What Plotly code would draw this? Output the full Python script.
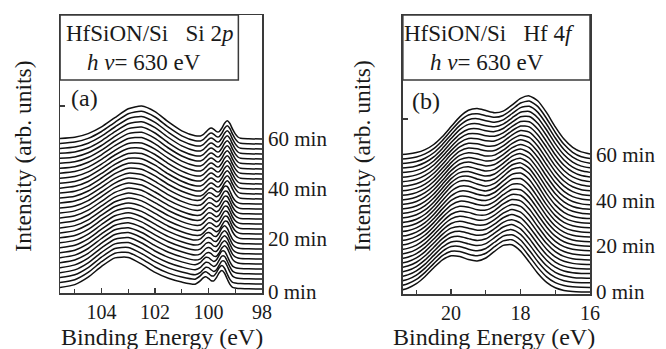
import plotly.graph_objects as go

# ---------------- data ----------------
times_min = [0, 2, 4, 6, 8, 10, 12, 14, 16, 18, 20, 22, 24, 26, 28, 30,
             32, 34, 36, 38, 40, 42, 44, 46, 48, 50, 52, 54, 56, 58, 60]

# Si 2p: binding energies (eV) and intensity table (row = energy, column = time)
si2p_energy = [105.6, 105.0, 104.5, 104.0, 103.5, 103.0, 102.5, 102.0, 101.5, 101.0,
               100.5, 100.3, 100.2, 100.1, 100.0, 99.9, 99.8, 99.7, 99.6, 99.5,
               99.4, 99.3, 99.2, 99.1, 99.0, 98.9, 98.8, 98.5, 98.0]
si2p_intensity = [
    [1.2,1.2,1.2,1.1,1.1,1.1,1.1,1.0,1.0,1.0,1.0,0.9,0.9,0.9,0.9,0.9,0.8,0.8,0.8,0.8,0.7,0.7,0.7,0.7,0.6,0.6,0.6,0.6,0.5,0.5,0.5],
    [4.4,4.3,4.2,4.1,4.1,4.0,3.9,3.8,3.7,3.6,3.5,3.4,3.4,3.3,3.2,3.1,3.0,2.9,2.8,2.8,2.7,2.6,2.5,2.4,2.3,2.2,2.1,2.1,2.0,1.9,1.8],
    [11.8,11.6,11.4,11.2,10.9,10.7,10.5,10.3,10.1,9.9,9.7,9.5,9.2,9.0,8.8,8.6,8.4,8.2,8.0,7.7,7.5,7.3,7.1,6.9,6.7,6.5,6.3,6.0,5.8,5.6,5.4],
    [22.6,22.3,21.9,21.6,21.2,20.9,20.5,20.2,19.8,19.5,19.1,18.8,18.4,18.1,17.7,17.4,17.0,16.7,16.3,16.0,15.6,15.3,14.9,14.6,14.2,13.9,13.5,13.2,12.8,12.5,12.1],
    [31.1,30.8,30.5,30.1,29.8,29.5,29.2,28.8,28.5,28.2,27.9,27.5,27.2,26.9,26.6,26.3,25.9,25.6,25.3,25.0,24.6,24.3,24.0,23.7,23.3,23.0,22.7,22.4,22.0,21.7,21.4],
    [31.6,31.6,31.5,31.5,31.4,31.4,31.3,31.3,31.2,31.2,31.1,31.1,31.0,31.0,30.9,30.9,30.9,30.8,30.8,30.7,30.7,30.6,30.6,30.5,30.5,30.4,30.4,30.3,30.3,30.2,30.2],
    [24.9,25.2,25.4,25.7,26.0,26.3,26.5,26.8,27.1,27.3,27.6,27.9,28.1,28.4,28.7,29.0,29.2,29.5,29.8,30.0,30.3,30.6,30.8,31.1,31.4,31.7,31.9,32.2,32.5,32.7,33.0],
    [16.6,17.0,17.3,17.7,18.0,18.4,18.8,19.1,19.5,19.8,20.2,20.6,20.9,21.3,21.6,22.0,22.4,22.7,23.1,23.4,23.8,24.2,24.5,24.9,25.2,25.6,26.0,26.3,26.7,27.0,27.4],
    [10.7,10.9,11.1,11.3,11.6,11.8,12.0,12.2,12.4,12.6,12.8,13.0,13.3,13.5,13.7,13.9,14.1,14.3,14.5,14.8,15.0,15.2,15.4,15.6,15.8,16.0,16.2,16.5,16.7,16.9,17.1],
    [6.9,6.9,7.0,7.0,7.1,7.1,7.2,7.2,7.2,7.3,7.3,7.4,7.4,7.5,7.5,7.6,7.6,7.6,7.7,7.7,7.8,7.8,7.9,7.9,7.9,8.0,8.0,8.1,8.1,8.2,8.2],
    [4.8,4.8, 4.2,4.2,4.2, 3.9,3.9,3.9,3.9,3.9, 3.7,3.7,3.7,3.7,3.7,3.7,3.7,3.7, 3.3,3.3,3.3,3.3,3.3,3.3,3.3,3.3,3.3,3.3,3.3,3.3,3.3],
    [8.3,8.3, 6.6,6.6,6.6, 5.2,5.2,5.2,5.2,5.2, 4.0,4.0,4.0,4.0,4.0,4.0,4.0,4.0, 3.1,3.1,3.1,3.1,3.1,3.1,3.1,3.1,3.1,3.1,3.1,3.1,3.1],
    [11.1,11.1, 9.5,9.5,9.5, 7.7,7.7,7.7,7.7,7.7, 5.9,5.9,5.9,5.9,5.9,5.9,5.9,5.9, 4.3,4.3,4.3,4.3,4.3,4.3,4.3,4.3,4.3,4.3,4.3,4.3,4.3],
    [12.2,12.2, 11.7,11.7,11.7, 10.5,10.5,10.5,10.5,10.5, 8.8,8.8,8.8,8.8,8.8,8.8,8.8,8.8, 6.9,6.9,6.9,6.9,6.9,6.9,6.9,6.9,6.9,6.9,6.9,6.9,6.9],
    [10.6,10.6, 11.4,11.4,11.4, 11.6,11.6,11.6,11.6,11.6, 11.1,11.1,11.1,11.1,11.1,11.1,11.1,11.1, 9.7,9.7,9.7,9.7,9.7,9.7,9.7,9.7,9.7,9.7,9.7,9.7,9.7],
    [8.3,8.3, 9.2,9.2,9.2, 10.3,10.3,10.3,10.3,10.3, 10.9,10.9,10.9,10.9,10.9,10.9,10.9,10.9, 11.0,11.0,11.0,11.0,11.0,11.0,11.0,11.0,11.0,11.0,11.0,11.0,11.0],
    [8.1,8.1, 7.6,7.6,7.6, 7.9,7.9,7.9,7.9,7.9, 8.8,8.8,8.8,8.8,8.8,8.8,8.8,8.8, 9.7,9.7,9.7,9.7,9.7,9.7,9.7,9.7,9.7,9.7,9.7,9.7,9.7],
    [11.5,11.5, 9.3,9.3,9.3, 7.8,7.8,7.8,7.8,7.8, 7.2,7.2,7.2,7.2,7.2,7.2,7.2,7.2, 7.4,7.4,7.4,7.4,7.4,7.4,7.4,7.4,7.4,7.4,7.4,7.4,7.4],
    [16.3,16.3, 13.9,13.9,13.9, 11.2,11.2,11.2,11.2,11.2, 8.9,8.9,8.9,8.9,8.9,8.9,8.9,8.9, 7.4,7.4,7.4,7.4,7.4,7.4,7.4,7.4,7.4,7.4,7.4,7.4,7.4],
    [18.5,18.5, 17.9,17.9,17.9, 16.0,16.0,16.0,16.0,16.0, 13.6,13.6,13.6,13.6,13.6,13.6,13.6,13.6, 10.9,10.9,10.9,10.9,10.9,10.9,10.9,10.9,10.9,10.9,10.9,10.9,10.9],
    [15.8,15.8, 17.7,17.7,17.7, 18.3,18.3,18.3,18.3,18.3, 17.7,17.7,17.7,17.7,17.7,17.7,17.7,17.7, 15.8,15.8,15.8,15.8,15.8,15.8,15.8,15.8,15.8,15.8,15.8,15.8,15.8],
    [10.0,10.0, 13.0,13.0,13.0, 15.7,15.7,15.7,15.7,15.7, 17.5,17.5,17.5,17.5,17.5,17.5,17.5,17.5, 18.2,18.2,18.2,18.2,18.2,18.2,18.2,18.2,18.2,18.2,18.2,18.2,18.2],
    [4.7,4.7, 7.1,7.1,7.1, 9.9,9.9,9.9,9.9,9.9, 12.9,12.9,12.9,12.9,12.9,12.9,12.9,12.9, 15.5,15.5,15.5,15.5,15.5,15.5,15.5,15.5,15.5,15.5,15.5,15.5,15.5],
    [1.7,1.7, 2.9,2.9,2.9, 4.6,4.6,4.6,4.6,4.6, 7.0,7.0,7.0,7.0,7.0,7.0,7.0,7.0, 9.8,9.8,9.8,9.8,9.8,9.8,9.8,9.8,9.8,9.8,9.8,9.8,9.8],
    [1.0,1.0, 1.4,1.4,1.4, 2.1,2.1,2.1,2.1,2.1, 3.3,3.3,3.3,3.3,3.3,3.3,3.3,3.3, 5.1,5.1,5.1,5.1,5.1,5.1,5.1,5.1,5.1,5.1,5.1,5.1,5.1],
    [0.6,0.6, 0.7,0.7,0.7, 1.0,1.0,1.0,1.0,1.0, 1.4,1.4,1.4,1.4,1.4,1.4,1.4,1.4, 2.0,2.0,2.0,2.0,2.0,2.0,2.0,2.0,2.0,2.0,2.0,2.0,2.0],
    [0.5,0.5, 0.5,0.5,0.5, 0.5,0.5,0.5,0.5,0.5, 0.6,0.6,0.6,0.6,0.6,0.6,0.6,0.6, 0.8,0.8,0.8,0.8,0.8,0.8,0.8,0.8,0.8,0.8,0.8,0.8,0.8],
    [0.2,0.2, 0.2,0.2,0.2, 0.2,0.2,0.2,0.2,0.2, 0.2,0.2,0.2,0.2,0.2,0.2,0.2,0.2, 0.3,0.3,0.3,0.3,0.3,0.3,0.3,0.3,0.3,0.3,0.3,0.3,0.3],
    [0.0,0.0, 0.0,0.0,0.0, 0.0,0.0,0.0,0.0,0.0, 0.0,0.0,0.0,0.0,0.0,0.0,0.0,0.0, 0.0,0.0,0.0,0.0,0.0,0.0,0.0,0.0,0.0,0.0,0.0,0.0,0.0],
]

# Hf 4f: binding energies (eV) and intensity table (row = energy, column = time)
hf4f_energy = [21.5, 21.25, 21.0, 20.75, 20.5, 20.25, 20.0, 19.75, 19.5, 19.25, 19.0, 18.75,
               18.5, 18.25, 18.0, 17.75, 17.5, 17.25, 17.0, 16.75, 16.5, 16.25, 16.0]
hf4f_intensity = [
    [1.4,1.3,1.3,1.2,1.2,1.1,1.0,1.0,0.9,0.9,0.8,0.7,0.7,0.6,0.6,0.5, 0.5,0.5,0.5,0.4,0.4,0.4,0.4,0.4,0.4,0.4,0.4,0.3,0.3,0.3,0.3],
    [3.8,3.7,3.5,3.4,3.2,3.1,2.9,2.8,2.6,2.5,2.3,2.2,2.0,1.9,1.7,1.6, 1.6,1.5,1.5,1.4,1.4,1.3,1.3,1.2,1.2,1.1,1.1,1.0,1.0,0.9,0.9],
    [8.3,8.0,7.8,7.5,7.2,6.9,6.7,6.4,6.1,5.8,5.6,5.3,5.0,4.7,4.5,4.2, 4.1,3.9,3.8,3.7,3.6,3.4,3.3,3.2,3.0,2.9,2.8,2.7,2.5,2.4,2.3],
    [15.5,15.1,14.7,14.2,13.8,13.4,13.0,12.6,12.1,11.7,11.3,10.9,10.5,10.0,9.6,9.2, 8.9,8.7,8.4,8.2,7.9,7.6,7.4,7.1,6.9,6.6,6.3,6.1,5.8,5.6,5.3],
    [24.3,23.8,23.4,22.9,22.4,21.9,21.5,21.0,20.5,20.0,19.6,19.1,18.6,18.1,17.7,17.2, 16.7,16.3,15.8,15.4,14.9,14.5,14.0,13.6,13.1,12.7,12.2,11.7,11.3,10.8,10.4],
    [32.1,31.8,31.5,31.1,30.8,30.5,30.2,29.9,29.5,29.2,28.9,28.6,28.3,27.9,27.6,27.3, 26.7,26.1,25.5,24.9,24.3,23.7,23.1,22.6,22.0,21.4,20.8,20.2,19.6,19.0,18.4],
    [36.2,36.2,36.3,36.3,36.4,36.4,36.4,36.5,36.5,36.6,36.6,36.6,36.7,36.7,36.8,36.8, 36.2,35.7,35.1,34.5,34.0,33.4,32.8,32.3,31.7,31.1,30.6,30.0,29.4,28.9,28.3],
    [35.5,36.0,36.4,36.9,37.3,37.8,38.2,38.7,39.1,39.6,40.0,40.5,40.9,41.4,41.8,42.3, 42.0,41.7,41.4,41.2,40.9,40.6,40.3,40.0,39.7,39.4,39.1,38.9,38.6,38.3,38.0],
    [32.4,33.1,33.7,34.4,35.1,35.8,36.4,37.1,37.8,38.5,39.1,39.8,40.5,41.2,41.8,42.5, 42.6,42.8,42.9,43.1,43.2,43.3,43.5,43.6,43.8,43.9,44.0,44.2,44.3,44.5,44.6],
    [31.0,31.6,32.1,32.7,33.2,33.8,34.4,34.9,35.5,36.0,36.6,37.2,37.7,38.3,38.8,39.4, 39.9,40.3,40.8,41.2,41.7,42.2,42.6,43.1,43.5,44.0,44.5,44.9,45.4,45.8,46.3],
    [34.0,34.2,34.4,34.7,34.9,35.1,35.3,35.5,35.8,36.0,36.2,36.4,36.6,36.9,37.1,37.3, 37.8,38.2,38.7,39.2,39.6,40.1,40.6,41.0,41.5,42.0,42.4,42.9,43.4,43.8,44.3],
    [40.7,40.7,40.6,40.6,40.5,40.5,40.4,40.4,40.3,40.3,40.2,40.2,40.1,40.1,40.0,40.0, 40.1,40.3,40.4,40.6,40.7,40.9,41.0,41.2,41.3,41.5,41.6,41.8,41.9,42.1,42.2],
    [46.6,46.6,46.7,46.7,46.7,46.8,46.8,46.8,46.9,46.9,46.9,47.0,47.0,47.0,47.1,47.1, 46.9,46.7,46.4,46.2,46.0,45.8,45.6,45.3,45.1,44.9,44.7,44.5,44.2,44.0,43.8],
    [47.2,47.7,48.1,48.6,49.1,49.5,50.0,50.5,50.9,51.4,51.9,52.3,52.8,53.3,53.7,54.2, 53.9,53.6,53.3,53.0,52.7,52.4,52.1,51.8,51.5,51.2,50.9,50.6,50.3,50.0,49.7],
    [40.9,41.9,42.9,43.9,44.9,45.9,46.9,47.9,49.0,50.0,51.0,52.0,53.0,54.0,55.0,56.0, 56.0,56.1,56.1,56.1,56.2,56.2,56.2,56.3,56.3,56.3,56.4,56.4,56.4,56.5,56.5],
    [29.9,31.2,32.6,33.9,35.2,36.6,37.9,39.2,40.6,41.9,43.2,44.6,45.9,47.2,48.6,49.9, 50.5,51.1,51.7,52.3,52.9,53.5,54.1,54.8,55.4,56.0,56.6,57.2,57.8,58.4,59.0],
    [18.5,19.8,21.1,22.3,23.6,24.9,26.2,27.5,28.7,30.0,31.3,32.6,33.9,35.1,36.4,37.7, 38.8,39.9,40.9,42.0,43.1,44.2,45.3,46.3,47.4,48.5,49.6,50.7,51.7,52.8,53.9],
    [9.6,10.6,11.5,12.5,13.5,14.4,15.4,16.4,17.3,18.3,19.3,20.2,21.2,22.2,23.1,24.1, 25.3,26.5,27.7,28.9,30.1,31.3,32.5,33.8,35.0,36.2,37.4,38.6,39.8,41.0,42.2],
    [4.2,4.8,5.4,6.0,6.5,7.1,7.7,8.3,8.9,9.5,10.1,10.7,11.2,11.8,12.4,13.0, 14.0,15.0,16.0,17.0,18.0,19.0,20.0,21.0,22.0,23.0,24.0,25.0,26.0,27.0,28.0],
    [1.6,1.9,2.2,2.5,2.7,3.0,3.3,3.6,3.9,4.2,4.5,4.8,5.0,5.3,5.6,5.9, 6.6,7.2,7.9,8.5,9.2,9.9,10.5,11.2,11.8,12.5,13.2,13.8,14.5,15.1,15.8],
    [0.5,0.6,0.7,0.9,1.0,1.1,1.2,1.3,1.5,1.6,1.7,1.8,1.9,2.1,2.2,2.3, 2.6,3.0,3.3,3.7,4.0,4.4,4.7,5.1,5.4,5.8,6.1,6.5,6.8,7.2,7.5],
    [0.1,0.1,0.2,0.2,0.3,0.3,0.3,0.4,0.4,0.5,0.5,0.5,0.6,0.6,0.7,0.7, 0.9,1.0,1.2,1.3,1.5,1.6,1.8,1.9,2.1,2.2,2.4,2.5,2.7,2.8,3.0],
    [0.0,0.0,0.0,0.0,0.1,0.1,0.1,0.1,0.1,0.1,0.1,0.1,0.2,0.2,0.2,0.2, 0.3,0.3,0.4,0.4,0.5,0.5,0.6,0.6,0.7,0.7,0.8,0.8,0.9,0.9,1.0],
]

label_times = [0, 20, 40, 60]
label_texts = ["0 min", "20 min", "40 min", "60 min"]
si2p_ticks = [104, 102, 100, 98]
hf4f_ticks = [20, 18, 16]

for row in si2p_intensity + hf4f_intensity:
    assert len(row) == len(times_min), len(row)
assert len(si2p_intensity) == len(si2p_energy)
assert len(hf4f_intensity) == len(hf4f_energy)

# ---------------- style / layout ----------------
W, H = 666, 349
FONT = "Liberation Serif"
TXT = "#1a1a1a"
AX = "#3a3a3a"
SI_OFFSET_PER_MIN = 2.5     # vertical stacking offset (axis units per minute)
HF_OFFSET_PER_MIN = 2.285


def px_x(p):
    return p / W


def px_y(p):
    return 1 - p / H


fig = go.Figure()

for k, t in enumerate(times_min):
    fig.add_trace(go.Scatter(
        x=si2p_energy,
        y=[row[k] + t * SI_OFFSET_PER_MIN for row in si2p_intensity],
        mode="lines", line=dict(color="#111111", width=1.5, shape="spline", smoothing=0.6),
        xaxis="x", yaxis="y", showlegend=False, hoverinfo="skip"))
    fig.add_trace(go.Scatter(
        x=hf4f_energy,
        y=[row[k] + t * HF_OFFSET_PER_MIN for row in hf4f_intensity],
        mode="lines", line=dict(color="#111111", width=1.5, shape="spline", smoothing=0.6),
        xaxis="x2", yaxis="y2", showlegend=False, hoverinfo="skip"))

common_x = dict(showline=True, linecolor=AX, linewidth=1.5, mirror=True, showgrid=False,
                zeroline=False, ticks="inside", ticklen=5, tickwidth=1.3, tickcolor=AX,
                tickfont=dict(family=FONT, size=20, color=TXT),
                minor=dict(dtick=1, tick0=0, ticks="inside", ticklen=4, tickwidth=1.3, tickcolor=AX))
common_y = dict(showline=True, linecolor=AX, linewidth=1.5, mirror=True, showgrid=False,
                zeroline=False, ticks="inside", ticklen=5, tickwidth=1.3, tickcolor=AX,
                showticklabels=False)

fig.update_layout(
    width=W, height=H, margin=dict(l=0, r=0, t=0, b=0),
    paper_bgcolor="white", plot_bgcolor="white",
    xaxis=dict(domain=[px_x(61), px_x(266)], range=[105.55, 98.0], tickvals=si2p_ticks,
               anchor="y", **common_x),
    yaxis=dict(domain=[px_y(293), px_y(15)], range=[-4, 274], tickvals=[183], anchor="x", **common_y),
    xaxis2=dict(domain=[px_x(409), px_x(599)], range=[21.39, 16.0], tickvals=hf4f_ticks,
                anchor="y2", **common_x),
    yaxis2=dict(domain=[px_y(294), px_y(15)], range=[-2, 277], tickvals=[173], anchor="x2", **common_y),
)

shapes = [
    dict(type="rect", xref="paper", yref="paper", x0=px_x(61), x1=px_x(242), y0=px_y(80), y1=px_y(15),
         line=dict(color=AX, width=1.5), fillcolor="white", layer="above"),
    dict(type="rect", xref="paper", yref="paper", x0=px_x(409), x1=px_x(599), y0=px_y(80), y1=px_y(15),
         line=dict(color=AX, width=1.5), fillcolor="white", layer="above"),
]
fig.update_layout(shapes=shapes)

ann = []


def add_text(text, x, y, size, angle=0, xanchor="center"):
    ann.append(dict(text=text, x=px_x(x), y=px_y(y), xref="paper", yref="paper", showarrow=False,
                    xanchor=xanchor, yanchor="middle", textangle=angle,
                    font=dict(family=FONT, size=size, color=TXT)))


NB = "\u00a0"
add_text("HfSiON/Si" + NB * 3 + "Si 2<i>p</i>", 152, 33, 23)
add_text("<i>h</i>" + NB + "<i>ν</i>= 630 eV", 146, 63, 23)
add_text("HfSiON/Si" + NB * 3 + "Hf 4<i>f</i>", 497, 33, 23)
add_text("<i>h</i>" + NB + "<i>ν</i>= 630 eV", 494, 63, 23)
add_text("(a)", 86, 98, 24)
add_text("(b)", 432, 101, 24)
add_text("Intensity (arb. units)", 23, 156, 23.5, angle=-90)
add_text("Intensity (arb. units)", 368, 156, 23.5, angle=-90)
add_text("Binding Energy (eV)", 164, 337, 24)
add_text("Binding Energy (eV)", 502, 337, 24)

for t, lab in zip(label_times, label_texts):
    ann.append(dict(text=lab, x=px_x(270), y=t * SI_OFFSET_PER_MIN, xref="paper", yref="y",
                    showarrow=False, xanchor="left", yanchor="middle",
                    yshift=-3 if t == 0 else 0,
                    font=dict(family=FONT, size=21, color=TXT)))
    ann.append(dict(text=lab, x=px_x(603), y=t * HF_OFFSET_PER_MIN, xref="paper", yref="y2",
                    showarrow=False, xanchor="left", yanchor="middle",
                    font=dict(family=FONT, size=21, color=TXT)))

fig.update_layout(annotations=ann)

fig.write_html("out.html", config={"displayModeBar": False, "staticPlot": True})

# remove the browser's default 8px body margin so the figure sits at the page origin
with open("out.html", "r", encoding="utf-8") as fh:
    html = fh.read()
html = html.replace("<head>", "<head><style>html,body{margin:0;padding:0;overflow:hidden;}</style>", 1)
with open("out.html", "w", encoding="utf-8") as fh:
    fh.write(html)
